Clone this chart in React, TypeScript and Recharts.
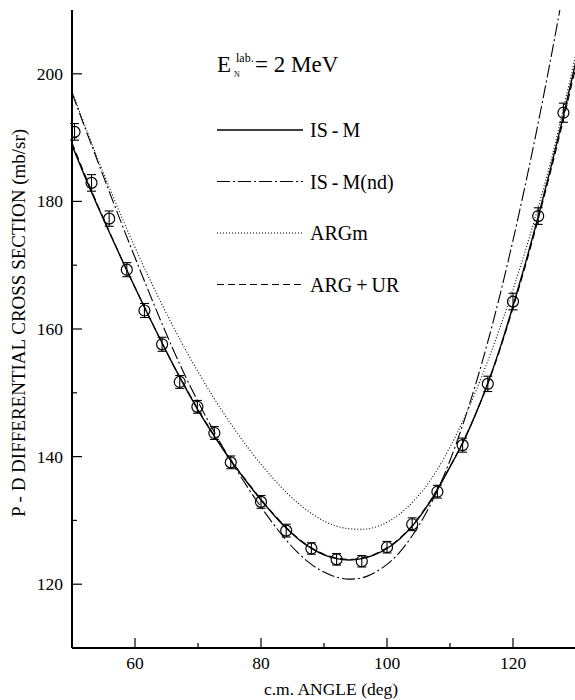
import React from "react";
import { ComposedChart, Line, Scatter, ErrorBar, XAxis, YAxis, Legend } from "recharts";

const FONT = "'Liberation Serif', 'Times New Roman', Times, serif";

// c.m. angle grid of the calculated curves (deg)
const curveAngle = [
  50, 52, 54, 56, 58, 60, 62, 64, 66, 68, 70, 72, 74, 76, 78, 80, 82, 84, 86, 88, 90,
  92, 94, 96, 98, 100, 102, 104, 106, 108, 110, 112, 114, 116, 118, 120, 122, 124, 126, 128, 130,
];

// IS-M (solid)
const isM = [
  188.8, 184.0, 179.4, 175.0, 170.7, 166.5, 162.4, 158.4, 154.5, 150.8, 147.3, 144.1, 141.1, 138.3,
  135.7, 133.2, 130.9, 128.8, 127.0, 125.6, 124.6, 124.0, 123.8, 124.0, 124.6, 125.6, 127.1, 129.1,
  131.7, 134.8, 138.4, 142.1, 146.5, 151.5, 157.2, 163.6, 170.4, 177.6, 185.3, 193.4, 202.0,
];

// IS-M(nd) (dash-dot), leaves the frame above 210 near 127 deg
const isMnd = [
  197.0, 191.7, 186.5, 181.3, 176.2, 171.2, 166.3, 161.5, 156.9, 152.6, 148.6, 144.9, 141.4, 138.1,
  135.0, 132.1, 129.4, 126.9, 124.8, 123.1, 121.9, 121.1, 120.8, 121.0, 121.8, 123.1, 125.0, 127.6,
  130.8, 134.7, 139.4, 144.9, 151.1, 158.0, 165.6, 173.9, 182.8, 192.3, 202.4, 213.0, null,
];

// ARGm (dotted)
const argM = [
  197.3, 192.0, 186.9, 182.0, 177.3, 172.8, 168.5, 164.4, 160.5, 156.8, 153.3, 150.0, 146.9, 144.0,
  141.3, 138.8, 136.5, 134.4, 132.6, 131.1, 129.9, 129.1, 128.7, 128.6, 128.9, 129.7, 131.0, 132.8,
  135.1, 138.0, 141.5, 145.5, 150.0, 155.0, 160.4, 166.2, 172.4, 179.1, 186.3, 194.5, 203.2,
];

// ARG+UR (dashed)
const argUR = [
  189.2, 184.3, 179.6, 175.1, 170.7, 166.5, 162.4, 158.4, 154.5, 150.9, 147.4, 144.2, 141.2, 138.4,
  135.8, 133.3, 131.0, 128.9, 127.1, 125.7, 124.7, 124.1, 123.9, 124.1, 124.7, 125.7, 127.2, 129.2,
  131.8, 134.9, 138.4, 142.2, 146.5, 151.4, 157.0, 163.3, 170.0, 177.2, 184.8, 192.8, 201.2,
];

// measured points
const dataAngle = [
  50.4, 53.1, 55.9, 58.7, 61.5, 64.3, 67.1, 69.9, 72.6, 75.2, 80, 84, 88, 92, 96, 100, 104, 108,
  112, 116, 120, 124, 128,
];
const dataSigma = [
  190.9, 182.9, 177.3, 169.3, 162.9, 157.6, 151.7, 147.8, 143.7, 139.1, 132.9, 128.4, 125.6, 123.9,
  123.6, 125.8, 129.4, 134.5, 141.8, 151.4, 164.3, 177.7, 193.9,
];
const dataErr = [
  1.3, 1.3, 1.2, 1.1, 1.1, 1.1, 1.0, 1.0, 1.0, 1.0, 1.0, 1.0, 0.9, 0.9, 0.9, 0.9, 1.0, 1.0, 1.1,
  1.2, 1.3, 1.3, 1.5,
];

const xTicks = [60, 70, 80, 90, 100, 110, 120];
const yTicks = [120, 130, 140, 150, 160, 170, 180, 190, 200];

const series = [
  { key: "isM", name: "IS\u2009-\u2009M", dash: undefined, width: 1.4 },
  { key: "isMnd", name: "IS\u2009-\u2009M(nd)", dash: "13 3 2 3", width: 1.1 },
  { key: "argM", name: "ARGm", dash: "1 2", width: 1.1 },
  { key: "argUR", name: "ARG\u2009+\u2009UR", dash: "7 4", width: 1.1 },
];

const curves = curveAngle.map((angle, i) => ({
  angle,
  isM: isM[i],
  isMnd: isMnd[i],
  argM: argM[i],
  argUR: argUR[i],
}));

const points = dataAngle.map((angle, i) => ({ angle, sigma: dataSigma[i], err: dataErr[i] }));

const isMajor = (v: number) => v % 20 === 0;

const BottomTick = ({ x, y, payload }: any) => (
  <g>
    <line x1={x} x2={x} y1={y} y2={y - (isMajor(payload.value) ? 10 : 5)} stroke="#000" strokeWidth={1.2} />
    {isMajor(payload.value) && (
      <text x={x} y={y + 21} textAnchor="middle" fontSize={17.5} fontFamily={FONT} fill="#000">
        {payload.value}
      </text>
    )}
  </g>
);

const TopTick = ({ x, y, payload }: any) => (
  <line x1={x} x2={x} y1={y} y2={y + (isMajor(payload.value) ? 10 : 5)} stroke="#000" strokeWidth={1.2} />
);

const LeftTick = ({ x, y, payload }: any) => (
  <g>
    <line x1={x} x2={x + (isMajor(payload.value) ? 10 : 5)} y1={y} y2={y} stroke="#000" strokeWidth={1.2} />
    {isMajor(payload.value) && (
      <text x={x - 9} y={y + 6} textAnchor="end" fontSize={17.5} fontFamily={FONT} fill="#000">
        {payload.value}
      </text>
    )}
  </g>
);

const RightTick = ({ x, y, payload }: any) => (
  <line x1={x} x2={x - (isMajor(payload.value) ? 10 : 5)} y1={y} y2={y} stroke="#000" strokeWidth={1.2} />
);

const YTitle = (props: any) => {
  const { viewBox } = props;
  const cx = viewBox.x + 25;
  const cy = viewBox.y + viewBox.height / 2 - 6;
  return (
    <text
      x={cx}
      y={cy}
      transform={`rotate(-90, ${cx}, ${cy})`}
      textAnchor="middle"
      fontSize={19}
      fontFamily={FONT}
      fill="#000"
    >
      P - D DIFFERENTIAL CROSS SECTION (mb/sr)
    </text>
  );
};

const XTitle = (props: any) => {
  const { viewBox } = props;
  return (
    <text
      x={viewBox.x + viewBox.width / 2 + 7}
      y={viewBox.y + 47}
      textAnchor="middle"
      fontSize={17.5}
      fontFamily={FONT}
      fill="#000"
    >
      c.m. ANGLE (deg)
    </text>
  );
};

const LegendBox = () => (
  <svg width={280} height={280} style={{ overflow: "visible", display: "block" }}>
    <g fontFamily={FONT} fill="#000">
      <text x={17} y={42} fontSize={23}>E</text>
      <text x={36} y={32} fontSize={12}>lab.</text>
      <text x={34} y={47} fontSize={8}>N</text>
      <text x={55} y={42} fontSize={23}>= 2 MeV</text>
      {series.map((s, i) => {
        const y = 100 + i * 51.5;
        return (
          <g key={s.key}>
            <line x1={17} x2={103} y1={y} y2={y} stroke="#000" strokeWidth={s.width} strokeDasharray={s.dash} />
            <text x={110} y={y + 7} fontSize={20}>{s.name}</text>
          </g>
        );
      })}
    </g>
  </svg>
);

export default function App() {
  return (
    <div style={{ position: "absolute", left: 0, top: 0, width: 575, height: 700, overflow: "hidden", background: "#fff" }}>
      <ComposedChart width={576} height={700} data={curves} margin={{ top: 10, right: 0, bottom: 0, left: 0 }}>
        <XAxis
          xAxisId="top"
          orientation="top"
          dataKey="angle"
          type="number"
          domain={[50, 130]}
          allowDataOverflow
          ticks={xTicks}
          interval={0}
          height={0}
          tickSize={0}
          tickMargin={0}
          tickLine={false}
          tick={TopTick}
          axisLine={{ stroke: "#000", strokeWidth: 2 }}
        />
        <XAxis
          dataKey="angle"
          type="number"
          domain={[50, 130]}
          allowDataOverflow
          ticks={xTicks}
          interval={0}
          height={52}
          tickSize={0}
          tickMargin={0}
          tickLine={false}
          tick={BottomTick}
          axisLine={{ stroke: "#000", strokeWidth: 2 }}
          label={XTitle}
        />
        <YAxis
          type="number"
          domain={[110, 210]}
          allowDataOverflow
          ticks={yTicks}
          interval={0}
          width={72}
          tickSize={0}
          tickMargin={0}
          tickLine={false}
          tick={LeftTick}
          axisLine={{ stroke: "#000", strokeWidth: 2 }}
          label={YTitle}
        />
        <YAxis
          yAxisId="right"
          orientation="right"
          type="number"
          domain={[110, 210]}
          allowDataOverflow
          ticks={yTicks}
          interval={0}
          width={0}
          tickSize={0}
          tickMargin={0}
          tickLine={false}
          tick={RightTick}
          axisLine={{ stroke: "#000", strokeWidth: 2 }}
        />
        <Legend
          layout="vertical"
          align="center"
          verticalAlign="middle"
          wrapperStyle={{ left: 200, top: 30, width: 280, height: 280 }}
          content={LegendBox}
        />
        {series.map((s) => (
          <Line
            key={s.key}
            dataKey={s.key}
            name={s.name}
            type="monotone"
            stroke="#000"
            strokeWidth={s.width}
            strokeDasharray={s.dash}
            dot={false}
            activeDot={false}
            isAnimationActive={false}
          />
        ))}
        <Scatter
          data={points}
          dataKey="sigma"
          legendType="none"
          isAnimationActive={false}
          shape={(p: any) => <circle cx={p.cx} cy={p.cy} r={5.5} fill="none" stroke="#000" strokeWidth={1.2} />}
        >
          <ErrorBar dataKey="err" direction="y" width={4.5} stroke="#000" strokeWidth={1.1} isAnimationActive={false} />
        </Scatter>
      </ComposedChart>
    </div>
  );
}
